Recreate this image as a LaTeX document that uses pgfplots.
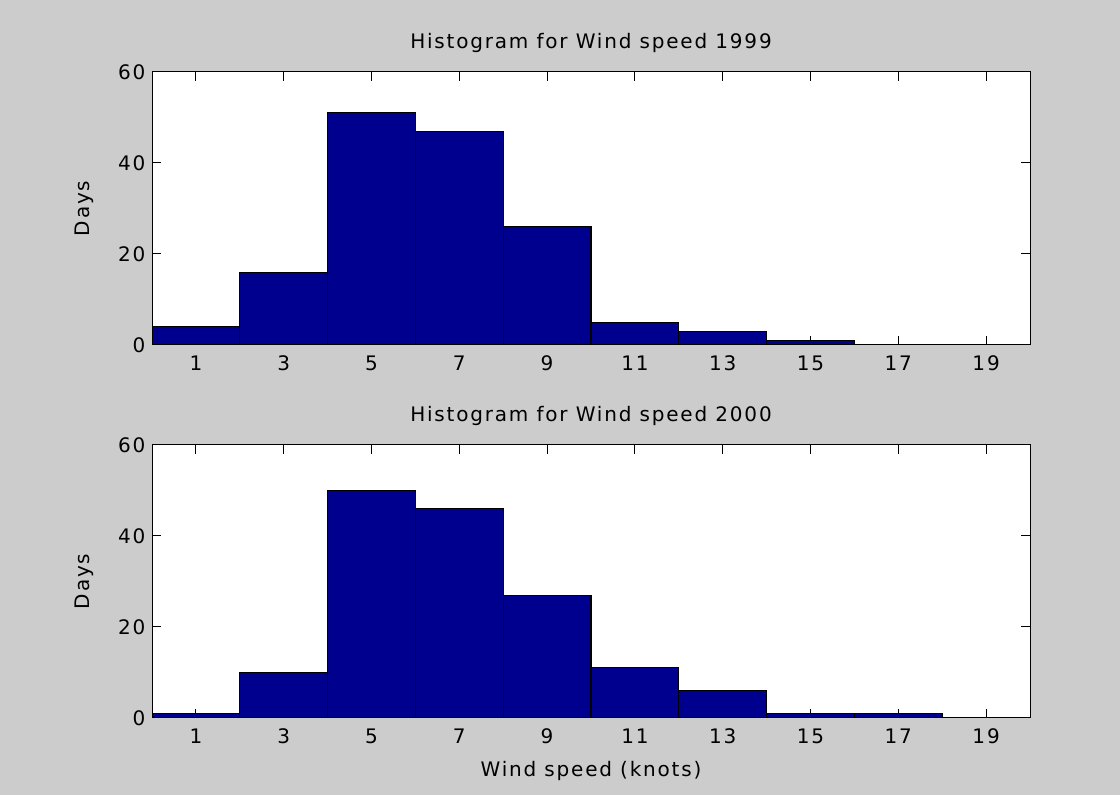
\documentclass[border=0pt]{standalone}
\usepackage{pgfplots}
\pgfplotsset{compat=1.18}
\usepackage{fontspec}
\setmainfont{DejaVu Sans}[LetterSpace=9]
\definecolor{figgray}{RGB}{204,204,204}
\definecolor{barblue}{RGB}{0,0,143}
\newcommand{\figfont}{\fontsize{15}{17}\selectfont}

\pgfplotsset{
  histax/.style={
    scale only axis, width=658.5pt, height=204.75pt,
    anchor=south west,
    xmin=0, xmax=20, ymin=0, ymax=60,
    xtick={1,3,...,19}, ytick={0,20,40,60},
    tick align=inside, major tick length=6.5pt,
    axis background/.style={fill=white},
    axis line style={line width=0.75pt},
    every tick/.style={line width=0.75pt, black},
    tick label style={font=\figfont},
    /pgf/number format/assume math mode=true,
    xticklabel style={anchor=base, yshift=-19.5pt},
    yticklabel style={xshift=-1.5pt},
    title style={font=\figfont, at={(0.5,1)}, anchor=base, yshift=11.5pt},
    ylabel=Days,
    ylabel style={font=\figfont, at={(0,0.5)}, anchor=center, yshift=51pt},
    xlabel style={font=\figfont, at={(0.5,0)}, anchor=base, yshift=-44.25pt},
  },
  histbar/.style={ybar interval, fill=barblue, draw=black, line width=0.8pt},
}

\begin{document}
\begin{tikzpicture}
  \fill[figgray] (0,0) rectangle (840pt,596.25pt);

  \begin{axis}[histax, at={(114pt,337.5pt)},
      title={Histogram for Wind speed 1999}]
    \addplot[histbar] coordinates {
      (0,4) (2,16) (4,51) (6,47) (8,26) (10,5) (12,3) (14,1) (16,0) (18,0) (20,0)
    };
  \end{axis}

  \begin{axis}[histax, at={(114pt,57.75pt)},
      title={Histogram for Wind speed 2000},
      xlabel={Wind speed (knots)}]
    \addplot[histbar] coordinates {
      (0,1) (2,10) (4,50) (6,46) (8,27) (10,11) (12,6) (14,1) (16,1) (18,0) (20,0)
    };
  \end{axis}
\end{tikzpicture}
\end{document}
